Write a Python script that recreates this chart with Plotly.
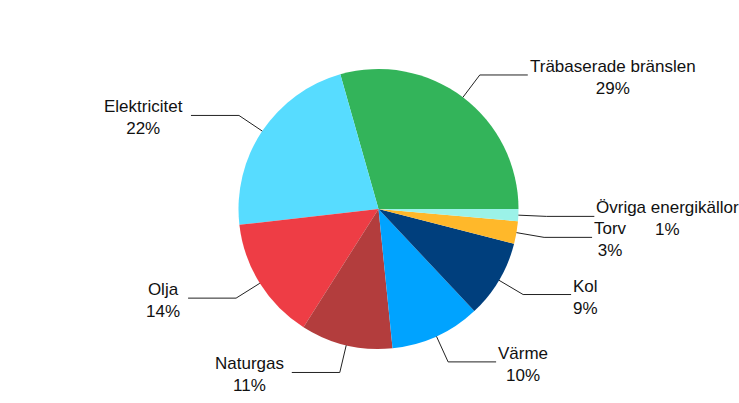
import math
import plotly.graph_objects as go

# ---- data ----
categories = ["Träbaserade bränslen", "Elektricitet", "Olja", "Naturgas",
              "Värme", "Kol", "Torv", "Övriga energikällor"]
shares = [29.4, 22.4, 14.2, 10.6, 10.4, 9.0, 2.6, 1.4]
colors = ["#33B45A", "#57DCFF", "#EE3D45", "#B33D3D",
          "#00A3FF", "#003F7D", "#FFB82A", "#9BF2E8"]

# ---- layout constants (pixels) ----
W, H = 739, 403
CX, CY, R = 378.5, 209.0, 140.0
ELBOW_R = 168.0
HSEG = 48.0
FONT = dict(family="Liberation Sans, Arial, sans-serif", size=17, color="#111111")


def px(x):
    return x / W


def py(y):
    return 1 - y / H


total = sum(shares)
first_deg = 360 * shares[0] / total

fig = go.Figure(go.Pie(
    labels=categories,
    values=shares,
    sort=False,
    direction="counterclockwise",
    rotation=90 - first_deg,
    marker=dict(colors=colors, line=dict(width=0)),
    textinfo="none",
    hoverinfo="label+percent",
    showlegend=False,
    domain=dict(x=[px(CX - R), px(CX + R)], y=[py(CY + R), py(CY - R)]),
))

shapes = []
annotations = []
start = 0.0
for name, v in zip(categories, shares):
    a = 360 * v / total
    mid = math.radians(start + a / 2)
    start += a
    c, s = math.cos(mid), math.sin(mid)
    x0, y0 = CX + R * c, CY - R * s
    x1, y1 = CX + ELBOW_R * c, CY - ELBOW_R * s
    right = c > 0
    x2 = x1 + (HSEG if right else -HSEG)
    shapes.append(dict(
        type="path", xref="paper", yref="paper",
        path=f"M {px(x0)},{py(y0)} L {px(x1)},{py(y1)} L {px(x2)},{py(y1)}",
        line=dict(color="#222222", width=1),
    ))
    annotations.append(dict(
        x=px(x2), y=py(y1 + 2.5), xref="paper", yref="paper",
        text=f"{name}<br>{round(v)}%",
        showarrow=False, align="center",
        xanchor="left" if right else "right", yanchor="middle",
        xshift=0 if right else -6,
        font=FONT,
    ))

fig.update_layout(
    width=W, height=H,
    margin=dict(l=0, r=0, t=0, b=0),
    paper_bgcolor="white", plot_bgcolor="white",
    shapes=shapes, annotations=annotations,
)

fig.write_html(
    "out.html",
    config={"displayModeBar": False},
    post_script="document.body.style.margin='0';document.body.style.overflow='hidden';",
)
